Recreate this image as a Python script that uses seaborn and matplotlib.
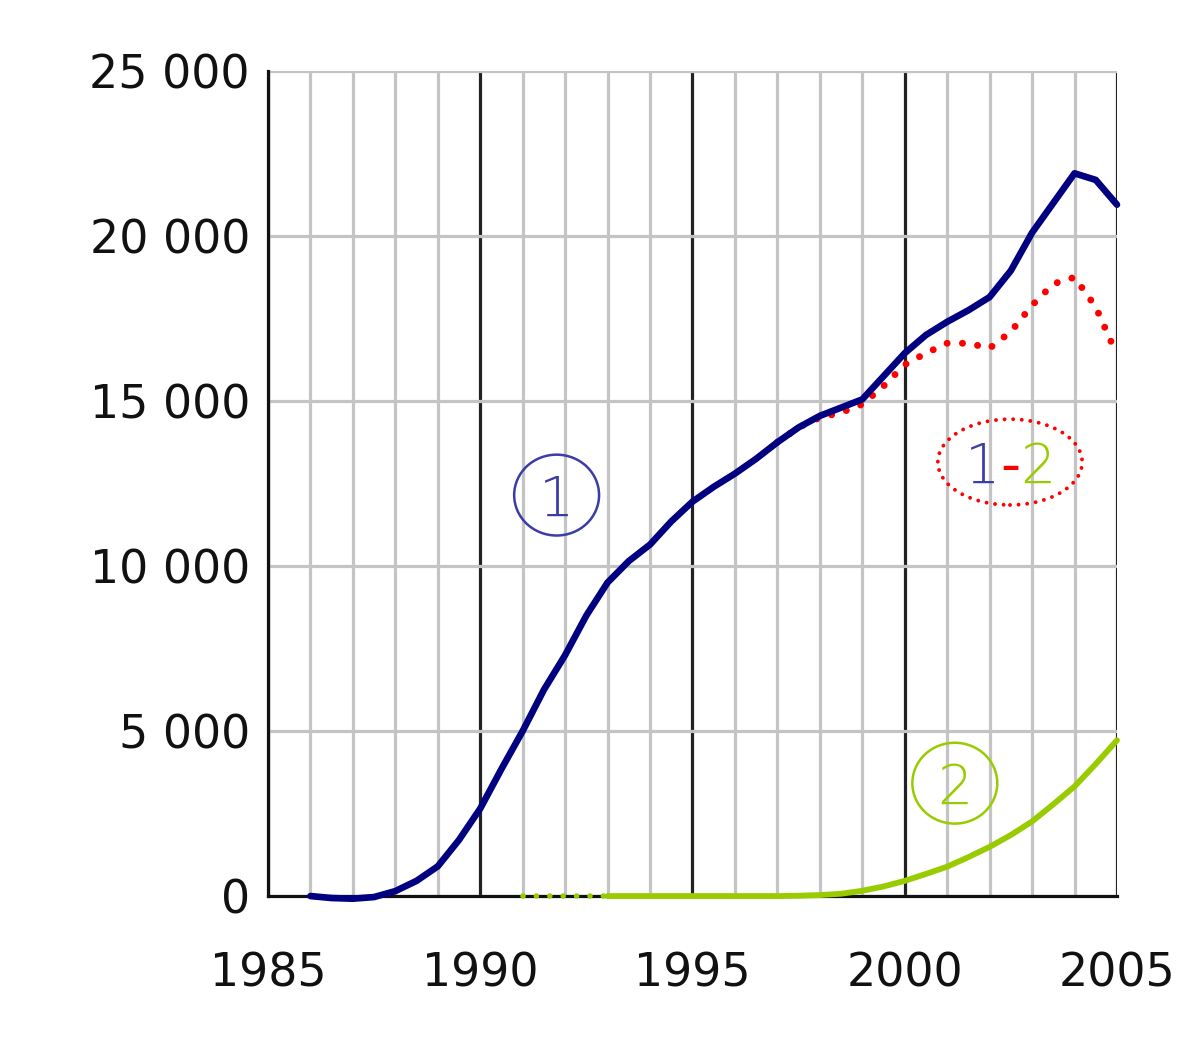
import matplotlib
matplotlib.use('Agg')
import matplotlib.pyplot as plt
from matplotlib.patches import Ellipse
from matplotlib.ticker import FuncFormatter, MultipleLocator
import seaborn as sns
import pandas as pd

# series 1 (blue) at half-year steps
years_1 = [1986, 1986.5, 1987, 1987.5, 1988, 1988.5, 1989, 1989.5, 1990, 1990.5,
           1991, 1991.5, 1992, 1992.5, 1993, 1993.5, 1994, 1994.5, 1995, 1995.5,
           1996, 1996.5, 1997, 1997.5, 1998, 1998.5, 1999, 1999.5, 2000, 2000.5,
           2001, 2001.5, 2002, 2002.5, 2003, 2003.5, 2004, 2004.5, 2005]
values_1 = [0, -60, -80, -30, 150, 460, 900, 1700, 2650, 3850,
            5000, 6250, 7300, 8500, 9500, 10150, 10650, 11350, 11950, 12400,
            12800, 13250, 13750, 14200, 14550, 14800, 15050, 15750, 16450, 17000,
            17400, 17750, 18150, 18950, 20100, 21000, 21900, 21700, 20950]

# series 2 (green): dotted start, then solid
years_2_start = [1991, 1992, 1993]
values_2_start = [0, 0, 0]
years_2 = [1993, 1993.5, 1994, 1994.5, 1995, 1995.5, 1996, 1996.5, 1997, 1997.5,
           1998, 1998.5, 1999, 1999.5, 2000, 2000.5, 2001, 2001.5, 2002, 2002.5,
           2003, 2003.5, 2004, 2004.5, 2005]
values_2 = [0, 0, 0, 0, 0, 0, 0, 0, 0, 10,
            30, 70, 160, 290, 460, 670, 890, 1180, 1490, 1850,
            2260, 2780, 3320, 4000, 4720]

# difference 1-2 (red dotted)
years_diff = [1997, 1997.5, 1998, 1998.5, 1999, 1999.5, 2000, 2000.5, 2001, 2001.5,
              2002, 2002.5, 2003, 2003.5, 2004, 2004.5, 2005]
values_diff = [13750, 14200, 14500, 14650, 14900, 15450, 16100, 16450, 16750, 16750,
               16600, 17100, 17900, 18550, 18750, 17850, 16400]

df1 = pd.DataFrame({'year': years_1, 'value': values_1})
df2a = pd.DataFrame({'year': years_2_start, 'value': values_2_start})
df2 = pd.DataFrame({'year': years_2, 'value': values_2})
dfd = pd.DataFrame({'year': years_diff, 'value': values_diff})

BLUE = '#000080'
GREEN = '#99cc00'
RED = '#ff0000'
LABEL_BLUE = '#3c3ca8'

sns.set_style('white')
plt.rcParams['font.family'] = ['DejaVu Sans']

fig = plt.figure(figsize=(12, 10.49), dpi=100)
ax = fig.add_axes([0.2233, 0.1458, 0.7075, 0.7865])

# grid
ax.set_xlim(1985, 2005)
ax.set_ylim(0, 25000)
ax.xaxis.set_major_locator(MultipleLocator(5))
ax.xaxis.set_minor_locator(MultipleLocator(1))
ax.yaxis.set_major_locator(MultipleLocator(5000))
ax.grid(axis='x', which='minor', color='#c4c4c4', linewidth=2.3, zorder=0)
ax.grid(axis='x', which='major', color='#222222', linewidth=2.3, zorder=1)
ax.grid(axis='y', which='major', color='#c4c4c4', linewidth=2.3, zorder=0)
ax.set_axisbelow(True)

for s in ['top', 'right']:
    ax.spines[s].set_visible(False)
for s in ['left', 'bottom']:
    ax.spines[s].set_color('#111111')
    ax.spines[s].set_linewidth(2.3)

ax.tick_params(axis='both', which='major', length=11, width=2.3, color='#111111',
               labelsize=33, labelcolor='#111111')
ax.tick_params(axis='x', which='major', pad=29)
ax.tick_params(axis='y', which='major', pad=2)
ax.tick_params(axis='x', which='minor', length=0)
ax.yaxis.set_major_formatter(FuncFormatter(lambda v, p: f'{int(v):,}'.replace(',', ' ')))

# lines
sns.lineplot(data=dfd, x='year', y='value', ax=ax, color=RED, linewidth=5.0,
             linestyle=(0, (0.01, 2.2)), dash_capstyle='round', zorder=3, clip_on=False)
sns.lineplot(data=df2a, x='year', y='value', ax=ax, color=GREEN, linewidth=4.0,
             linestyle=(0, (0.01, 2.4)), dash_capstyle='round', zorder=4, clip_on=False)
sns.lineplot(data=df2, x='year', y='value', ax=ax, color=GREEN, linewidth=4.2,
             zorder=4, clip_on=False)
sns.lineplot(data=df1, x='year', y='value', ax=ax, color=BLUE, linewidth=4.8,
             zorder=5, clip_on=False)
ax.set_xlabel('')
ax.set_ylabel('')

# circled labels
ax.add_patch(Ellipse((1991.8, 12150), 2.0, 2450, fill=False, edgecolor=LABEL_BLUE,
                     linewidth=1.8, zorder=6))
ax.annotate('1', xy=(1991.8, 12150), xytext=(0, -15), textcoords='offset points',
            ha='center', va='baseline', fontsize=40, color=LABEL_BLUE,
            fontweight='light', zorder=7)

ax.add_patch(Ellipse((2001.18, 3420), 2.0, 2450, fill=False, edgecolor=GREEN,
                     linewidth=1.8, zorder=6))
ax.annotate('2', xy=(2001.18, 3420), xytext=(0, -15), textcoords='offset points',
            ha='center', va='baseline', fontsize=40, color=GREEN,
            fontweight='light', zorder=7)

ax.add_patch(Ellipse((2002.48, 13150), 3.4, 2600, fill=False, edgecolor=RED,
                     linewidth=2.8, linestyle=(0, (0.01, 2.2)), capstyle='round', zorder=6))
ax.annotate('-', xy=(2002.48, 13150), xytext=(0, -15), textcoords='offset points',
            ha='center', va='baseline', fontsize=40, color=RED, zorder=7)
ax.annotate('1', xy=(2002.48, 13150), xytext=(-7, -15), textcoords='offset points',
            ha='right', va='baseline', fontsize=40, color=LABEL_BLUE,
            fontweight='light', zorder=7)
ax.annotate('2', xy=(2002.48, 13150), xytext=(7, -15), textcoords='offset points',
            ha='left', va='baseline', fontsize=40, color=GREEN,
            fontweight='light', zorder=7)

fig.savefig('out.png', dpi=100)
